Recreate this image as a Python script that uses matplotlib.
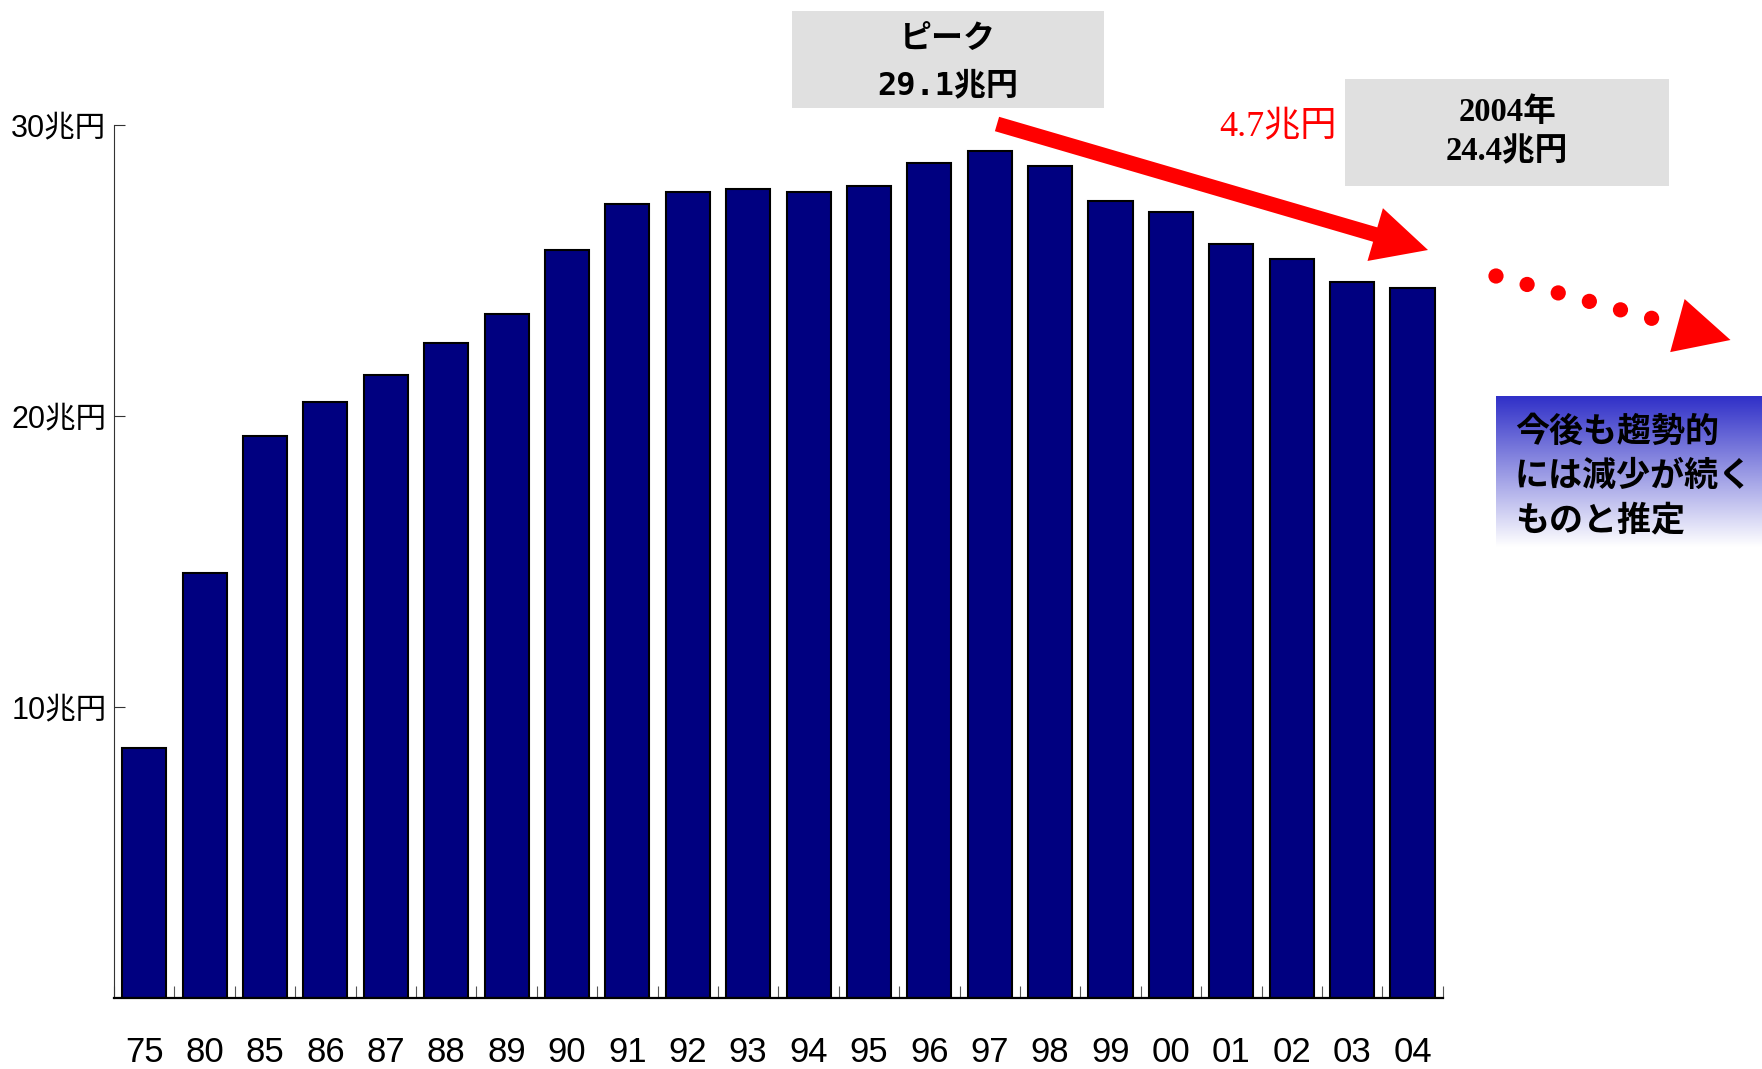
import numpy as np
import matplotlib
matplotlib.use("Agg")
import matplotlib.pyplot as plt
from matplotlib.patches import Rectangle, FancyArrow, Polygon, Circle

# Fiscal-year tax revenue (trillion yen)
years = ["75", "80", "85", "86", "87", "88", "89", "90", "91", "92", "93",
         "94", "95", "96", "97", "98", "99", "00", "01", "02", "03", "04"]
values = [8.6, 14.6, 19.3, 20.5, 21.4, 22.5, 23.5, 25.7, 27.3, 27.7, 27.8,
          27.7, 27.9, 28.7, 29.1, 28.6, 27.4, 27.0, 25.9, 25.4, 24.6, 24.4]
y_ticks = [10, 20, 30]
y_tick_labels = ["10兆円", "20兆円", "30兆円"]

peak_lines = ["ピーク", "29.1兆円"]
latest_lines = ["2004年", "24.4兆円"]
drop_label = "4.7兆円"
outlook_lines = ["今後も趨勢的", "には減少が続く", "ものと推定"]

W, H = 1762, 1069
fig = plt.figure(figsize=(W / 100, H / 100), dpi=100)
fig.patch.set_facecolor("white")

# main bar axes (pixel layout converted to figure fractions)
left, right, top, bottom = 114, 1442.7, 125, 998.3
ax = fig.add_axes([left / W, 1 - bottom / H, (right - left) / W, (bottom - top) / H])
x = np.arange(len(years))
ax.bar(x, values, width=0.73, color="#000080", edgecolor="black",
       linewidth=1.5, zorder=2)
ax.set_xlim(-0.5, len(years) - 0.5)
ax.set_ylim(0, 30)

ax.set_yticks(y_ticks)
ax.set_yticklabels(y_tick_labels, family=["Liberation Sans", "Noto Sans CJK JP"],
                   fontsize=22)
ax.set_xticks(x)
ax.set_xticklabels(years, family=["Liberation Sans Narrow", "Liberation Sans"],
                   fontsize=25)
ax.set_xticks(np.arange(-0.5, len(years)), minor=True)
ax.tick_params(axis="x", which="major", length=0, pad=27.5)
ax.tick_params(axis="x", which="minor", direction="in", length=8.5,
               width=0.8, color="#555555")
ax.tick_params(axis="y", which="major", direction="in", length=8,
               width=0.8, color="#333333", pad=5.5)
for s in ["top", "right"]:
    ax.spines[s].set_visible(False)
ax.spines["left"].set_linewidth(0.8)
ax.spines["left"].set_color("#333333")
ax.spines["bottom"].set_linewidth(1.6)
ax.spines["bottom"].set_color("black")

# overlay in pixel units for callouts
ov = fig.add_axes([0, 0, 1, 1], zorder=5)
ov.axis("off")

# gradient panel on the right
gx0, gx1, gy0, gy1 = 1496, 1762, 396.7, 547
top_rgb = np.array([48, 48, 200]) / 255.0
t = np.linspace(0, 1, 200)[:, None]
grad = (1 - t) * top_rgb + t * np.array([1.0, 1.0, 1.0])
ov.imshow(grad[:, None, :], extent=(gx0, gx1, gy1, gy0), origin="upper",
          aspect="auto", interpolation="bilinear", zorder=1)
ov.set_xlim(0, W)
ov.set_ylim(H, 0)

for i, line in enumerate(outlook_lines):
    ov.text(1515, 431 + i * 44.5, line, ha="left", va="center",
            fontsize=24.5, fontweight="bold", family=["Noto Sans CJK JP"],
            color="black", zorder=3)

# peak callout box
ov.add_patch(Rectangle((792, 11), 312, 97, fc="#e0e0e0", ec="none", zorder=1))
ov.text(948, 39, peak_lines[0], ha="center", va="center", fontsize=23,
        fontweight="bold", family=["DejaVu Sans Mono", "Noto Sans CJK JP"], zorder=3)
ov.text(948, 86, peak_lines[1], ha="center", va="center", fontsize=23,
        fontweight="bold", family=["DejaVu Sans Mono", "Noto Sans CJK JP"], zorder=3)

# 2004 callout box
ov.add_patch(Rectangle((1345, 79), 324, 107, fc="#e0e0e0", ec="none", zorder=1))
ov.text(1507, 113, latest_lines[0], ha="center", va="center", fontsize=23.5,
        fontweight="bold", family=["Liberation Serif", "Noto Sans CJK JP"], zorder=3)
ov.text(1507, 152, latest_lines[1], ha="center", va="center", fontsize=23.5,
        fontweight="bold", family=["Liberation Serif", "Noto Sans CJK JP"], zorder=3)

# decline arrow and amount
ov.add_patch(FancyArrow(997, 124, 431, 126, width=15, head_width=55,
                        head_length=55, length_includes_head=True,
                        fc="red", ec="none", zorder=4))
ov.text(1219, 128, drop_label, ha="left", va="center", fontsize=26,
        color="red", family=["Liberation Serif", "Noto Sans CJK JP"], zorder=3)

# dotted continuation arrow
p0 = np.array([1496.0, 276.0])
p1 = np.array([1651.6, 318.3])
for p in np.linspace(p0, p1, 6):
    ov.add_patch(Circle(p, 7.6, fc="red", ec="none", zorder=4))
d = (p1 - p0) / np.linalg.norm(p1 - p0)
n = np.array([-d[1], d[0]])
tip = np.array([1730.5, 340.0])
base = tip - 55 * d
ov.add_patch(Polygon([tip, base + 27.5 * n, base - 27.5 * n], closed=True,
                     fc="red", ec="none", zorder=4))

fig.savefig("out.png", dpi=100)
